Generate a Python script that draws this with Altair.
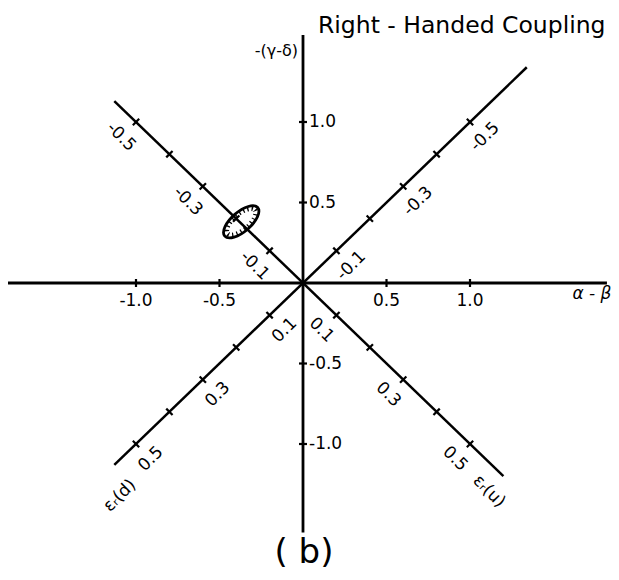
import altair as alt
import pandas as pd

# ---- values ----
axis_ticks = [-1.0, -0.5, 0.5, 1.0]
axis_tick_labels = ["-1.0", "-0.5", "0.5", "1.0"]
eps_ticks = [-0.5, -0.4, -0.3, -0.2, -0.1, 0.1, 0.2, 0.3, 0.4, 0.5]
eps_labelled = [-0.5, -0.3, -0.1, 0.1, 0.3, 0.5]
eps_labels = ["-0.5", "-0.3", "-0.1", "0.1", "0.3", "0.5"]
x_axis_ends = [-1.77, 1.82]
y_axis_ends = [-1.55, 1.54]
d_line_eps_ends = [0.565, -0.67]   # eps_R(d) line: SW end .. NE end
u_line_eps_ends = [-0.565, 0.60]   # eps_R(u) line: NW end .. SE end
ellipse_center = [-0.37, 0.38]     # (alpha-beta, -(gamma-delta))

# ---- layout ----
W, H = 603, 564
X0, Y0 = 295, 275
PX_X, PX_Y = 167, 161
xs = alt.Scale(domain=[-X0 / PX_X, (W - X0) / PX_X], nice=False, zero=False)
ys = alt.Scale(domain=[-(H - Y0) / PX_Y, Y0 / PX_Y], nice=False, zero=False)
FONT = "DejaVu Sans"


def d_pos(e):
    return -2 * e, -2 * e


def u_pos(e):
    return 2 * e, -2 * e


def X(f="x"):
    return alt.X(f"{f}:Q", scale=xs, axis=None)


def Y(f="y"):
    return alt.Y(f"{f}:Q", scale=ys, axis=None)


axes_df = pd.DataFrame([
    {"x": x_axis_ends[0], "x2": x_axis_ends[1], "y": 0.0, "y2": 0.0},
    {"x": 0.0, "x2": 0.0, "y": y_axis_ends[0], "y2": y_axis_ends[1]},
])
diag_rows = []
a, b = d_pos(d_line_eps_ends[0]), d_pos(d_line_eps_ends[1])
diag_rows.append({"x": a[0], "y": a[1], "x2": b[0], "y2": b[1]})
a, b = u_pos(u_line_eps_ends[0]), u_pos(u_line_eps_ends[1])
diag_rows.append({"x": a[0], "y": a[1], "x2": b[0], "y2": b[1]})
diag_df = pd.DataFrame(diag_rows)

axes = alt.Chart(axes_df).mark_rule(color="black", strokeWidth=2.8).encode(
    x=X(), x2="x2:Q", y=Y(), y2="y2:Q")
diags = alt.Chart(diag_df).mark_rule(color="black", strokeWidth=2.5).encode(
    x=X(), x2="x2:Q", y=Y(), y2="y2:Q")

xt_df = pd.DataFrame({"x": axis_ticks, "y": [0.0] * 4, "t": axis_tick_labels})
yt_df = pd.DataFrame({"x": [0.0] * 4, "y": axis_ticks, "t": axis_tick_labels})

pt = dict(color="black", filled=False, opacity=1, strokeWidth=2.2)
xticks = alt.Chart(xt_df).mark_point(shape="M 0 -1 L 0 1", size=64, **pt).encode(x=X(), y=Y())
yticks = alt.Chart(yt_df).mark_point(shape="M -1 0 L 1 0", size=64, **pt).encode(x=X(), y=Y())

dt_df = pd.DataFrame({"x": [d_pos(e)[0] for e in eps_ticks], "y": [d_pos(e)[1] for e in eps_ticks]})
ut_df = pd.DataFrame({"x": [u_pos(e)[0] for e in eps_ticks], "y": [u_pos(e)[1] for e in eps_ticks]})
dticks = alt.Chart(dt_df).mark_point(shape="M -1 -1 L 1 1", size=40, **pt).encode(x=X(), y=Y())
uticks = alt.Chart(ut_df).mark_point(shape="M -1 1 L 1 -1", size=40, **pt).encode(x=X(), y=Y())

txt = dict(font=FONT, color="black", fontSize=17)
xlab = alt.Chart(xt_df).mark_text(dy=18, align="center", baseline="middle", **txt).encode(
    x=X(), y=Y(), text="t:N")
ylab = alt.Chart(yt_df).mark_text(dx=6, align="left", baseline="middle", **txt).encode(
    x=X(), y=Y(), text="t:N")

dl_df = pd.DataFrame({"x": [d_pos(e)[0] for e in eps_labelled],
                      "y": [d_pos(e)[1] for e in eps_labelled], "t": eps_labels})
ul_df = pd.DataFrame({"x": [u_pos(e)[0] for e in eps_labelled],
                      "y": [u_pos(e)[1] for e in eps_labelled], "t": eps_labels})
dlab = alt.Chart(dl_df).mark_text(angle=315, dy=21, align="center", baseline="middle", **txt).encode(
    x=X(), y=Y(), text="t:N")
ulab = alt.Chart(ul_df).mark_text(angle=45, dy=21, align="center", baseline="middle", **txt).encode(
    x=X(), y=Y(), text="t:N")

epsd_df = pd.DataFrame({"x": [d_pos(0.5)[0]], "y": [d_pos(0.5)[1]], "t": ["εᵣ(d)"]})
epsu_df = pd.DataFrame({"x": [u_pos(0.5)[0]], "y": [u_pos(0.5)[1]], "t": ["εᵣ(u)"]})
epsd = alt.Chart(epsd_df).mark_text(angle=315, dx=-48, dy=25, align="center", baseline="middle", **txt).encode(
    x=X(), y=Y(), text="t:N")
epsu = alt.Chart(epsu_df).mark_text(angle=45, dx=47, dy=20, align="center", baseline="middle", **txt).encode(
    x=X(), y=Y(), text="t:N")

axname_df = pd.DataFrame({"x": [x_axis_ends[1], 0.0], "y": [0.0, y_axis_ends[1]],
                          "t": ["α - β", "-(γ-δ)"]})
alab = alt.Chart(axname_df.iloc[[0]]).mark_text(dx=-15, dy=11, align="center", baseline="middle",
                                                 fontStyle="italic", **txt).encode(x=X(), y=Y(), text="t:N")
glab = alt.Chart(axname_df.iloc[[1]]).mark_text(dx=-5, dy=16, align="right", baseline="middle",
                                                 font=FONT, fontSize=16, color="black").encode(
    x=X(), y=Y(), text="t:N")

ell_df = pd.DataFrame({"x": [ellipse_center[0]], "y": [ellipse_center[1]]})
ELL = ("M 1 0 C 1 0.2485 0.5523 0.45 0 0.45 C -0.5523 0.45 -1 0.2485 -1 0 "
       "C -1 -0.2485 -0.5523 -0.45 0 -0.45 C 0.5523 -0.45 1 -0.2485 1 0 Z")
ell = alt.Chart(ell_df).mark_point(shape=ELL, size=1900, angle=319, color="black", filled=False,
                                   opacity=1, strokeWidth=2.8).encode(x=X(), y=Y())
hatch = alt.Chart(ell_df).mark_point(shape=ELL, size=1300, angle=319, color="black", filled=False,
                                     opacity=1, strokeWidth=5, strokeDash=[1.3, 3.2]).encode(x=X(), y=Y())

title = alt.Chart(ell_df).mark_text(text="Right - Handed Coupling", font=FONT, fontSize=23.5,
                                    align="left", baseline="alphabetic", color="black").encode(
    x=alt.value(310), y=alt.value(25))
blabel = alt.Chart(ell_df).mark_text(text="( b)", font=FONT, fontSize=34,
                                     align="center", baseline="middle", color="black").encode(
    x=alt.value(296), y=alt.value(545))

chart = alt.layer(axes, diags, xticks, yticks, dticks, uticks, xlab, ylab, dlab, ulab,
                  epsd, epsu, alab, glab, ell, hatch, title, blabel).properties(
    width=W, height=H, autosize=alt.AutoSizeParams(type="none"), padding=0,
    background="white").configure_view(stroke=None)

chart.save("out.html", embed_options={"renderer": "svg", "actions": False})
